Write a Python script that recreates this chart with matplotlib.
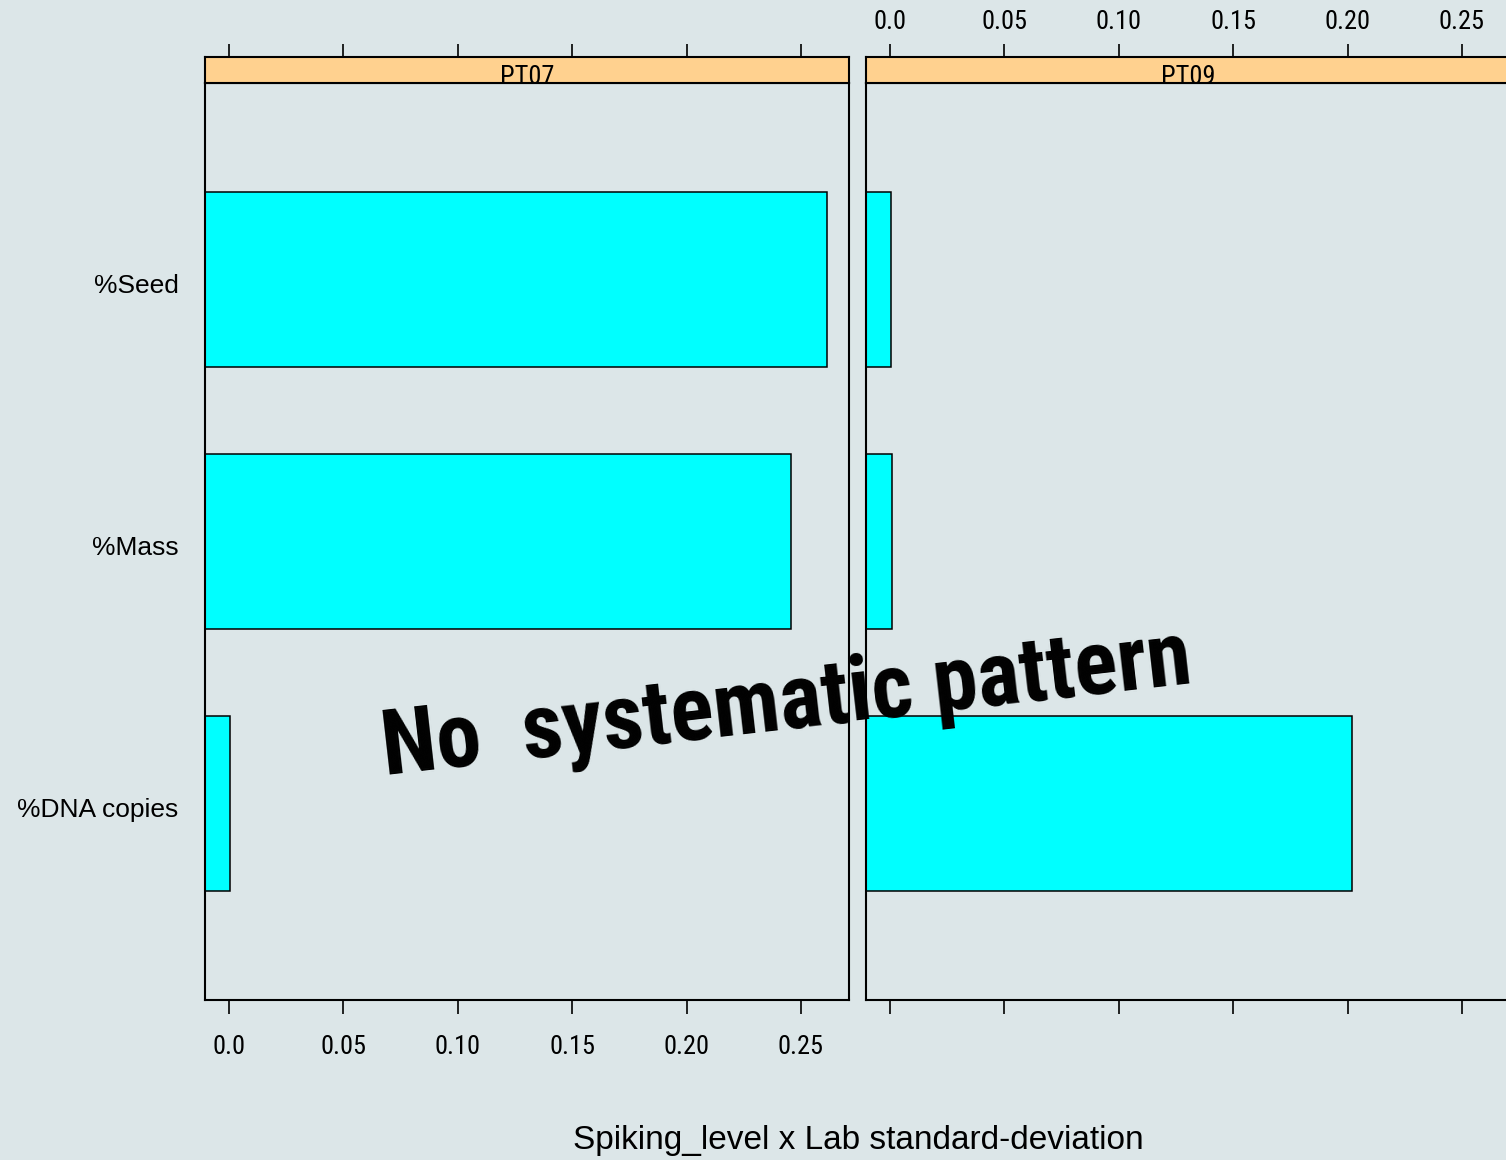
import numpy as np
import matplotlib.pyplot as plt
from matplotlib import font_manager

categories = ['%DNA copies', '%Mass', '%Seed']
panels = ['PT07', 'PT09']
pt07 = [0.0005, 0.2455, 0.2612]
pt09 = [0.2020, 0.0008, 0.0003]
values = [pt07, pt09]
ticks = [0.0, 0.05, 0.10, 0.15, 0.20, 0.25]
ticklabels = ['0.0', '0.05', '0.10', '0.15', '0.20', '0.25']

bg = '#dce6e8'
strip_col = '#ffd18f'
bar_col = '#00ffff'

# pick a condensed face if one is installed
installed = {f.name for f in font_manager.fontManager.ttflist}
narrow = [f for f in ['Liberation Sans Narrow', 'DejaVu Sans Condensed', 'Roboto Condensed',
                      'Open Sans Condensed'] if f in installed] + ['Liberation Sans']
plt.rcParams['font.family'] = ['Liberation Sans', 'DejaVu Sans']

W, H = 1506, 1160
fig = plt.figure(figsize=(W / 100, H / 100), dpi=100, facecolor=bg)

xmin, xmax = -0.0105, 0.2710
lefts = [205, 866]
pw = 644
top_y, bot_y, strip_top = 83, 1000, 57

for i, name in enumerate(panels):
    ax = fig.add_axes([lefts[i] / W, 1 - bot_y / H, pw / W, (bot_y - top_y) / H])
    ax.set_facecolor(bg)
    y = np.arange(1, len(categories) + 1)
    v = np.array(values[i])
    ax.barh(y, v - xmin, left=xmin, height=2 / 3, color=bar_col,
            edgecolor='black', linewidth=1.1)
    ax.set_xlim(xmin, xmax)
    ax.set_ylim(0.25, len(categories) + 0.75)
    for s in ax.spines.values():
        s.set_linewidth(1.5)
    ax.set_xticks(ticks)
    ax.tick_params(axis='x', direction='out', length=10, width=1.2, pad=15)
    if i == 0:
        ax.set_xticklabels(ticklabels, family=narrow, fontsize=19)
        ax.set_yticks(y - 0.015)
        ax.set_yticklabels(categories, fontsize=19)
        ax.tick_params(axis='y', length=0, pad=19)
    else:
        ax.set_xticklabels([])
        ax.set_yticks([])

    # strip on top
    sx = fig.add_axes([lefts[i] / W, 1 - top_y / H, pw / W, (top_y - strip_top) / H])
    sx.set_facecolor(strip_col)
    sx.set_xlim(xmin, xmax)
    sx.set_yticks([])
    for s in sx.spines.values():
        s.set_linewidth(1.5)
    sx.xaxis.tick_top()
    sx.set_xticks(ticks)
    sx.tick_params(axis='x', direction='out', length=9.5, width=1.2, pad=7)
    if i == 1:
        sx.set_xticklabels(ticklabels, family=narrow, fontsize=19)
    else:
        sx.set_xticklabels([])
    sx.text(0.5, 0.25, name, transform=sx.transAxes, ha='center', va='center',
            family=narrow, fontsize=19)

fig.text(858 / W, 1 - 1141 / H, 'Spiking_level x Lab standard-deviation',
         ha='center', va='center', fontsize=24)

note = fig.text(787 / W, 1 - 705 / H, 'No  systematic pattern', ha='center', va='center',
                rotation=0, rotation_mode='anchor', family=narrow, fontweight='bold',
                fontsize=68, color='black')
# fit the slogan to the width it has in the reference
r = fig.canvas.get_renderer()
w = note.get_window_extent(r).width
note.set_fontsize(68 * 815 / w)
note.set_rotation(6.5)

fig.savefig('out.png', dpi=100, facecolor=bg)
